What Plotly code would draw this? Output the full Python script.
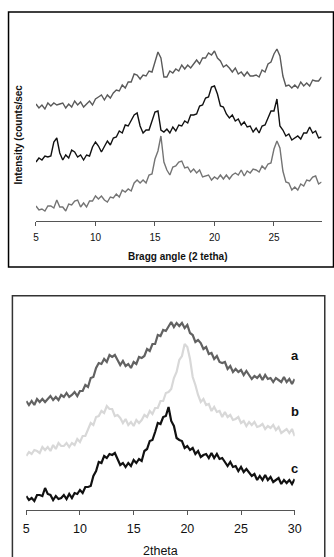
import numpy as np
import plotly.graph_objects as go

# ---------------- data ----------------
# Top panel: 2-theta grid 5..29 (step 0.25)
top_theta = np.arange(5.0, 29.0001, 0.25)
top_upper = [117,113,116,112,118,115,118,116,117,118,
             113,117,114,120,116,119,114,117,120,116,
             122,124,126,121,126,123,128,131,130,136,
             133,139,139,147,146,142,146,145,150,149,
             160,169,163,144,144,150,148,152,150,156,
             152,156,153,157,161,157,163,163,168,166,
             170,163,160,154,156,153,149,153,147,149,
             145,149,145,145,146,144,151,149,157,159,
             167,172,165,145,135,136,133,136,133,139,
             135,138,135,141,140,140,144]
top_middle = [59,63,61,65,64,65,79,83,68,61,
              66,63,71,69,64,66,61,66,65,74,
              79,75,69,74,80,76,83,84,90,88,
              96,95,100,106,108,95,88,91,91,101,
              109,110,91,89,92,88,94,90,96,95,
              100,98,106,106,107,115,116,123,124,134,
              135,127,115,114,107,103,106,100,102,96,
              99,94,95,89,93,88,95,96,103,110,
              110,122,95,91,85,87,81,83,85,82,
              88,88,94,88,90,83,84]
top_lower = [15,11,12,10,15,15,13,21,14,14,
             10,17,16,20,21,14,18,14,20,20,
             25,22,25,21,19,24,23,27,24,31,
             29,32,30,38,41,38,41,38,46,47,
             62,70,85,59,51,46,54,55,59,60,
             53,54,49,52,48,51,44,45,46,41,
             44,42,46,42,46,42,46,48,46,51,
             45,50,48,52,51,49,55,52,57,58,
             72,80,73,50,39,38,31,34,31,37,
             35,41,40,44,45,37,39]

# Bottom panel: 2-theta grid 5..30 (step 0.25)
bot_theta = np.arange(5.0, 30.0001, 0.25)
bot_a = [109,105,109,105,111,108,111,108,111,114,
         110,113,110,115,113,117,113,115,118,114,
         119,119,125,123,132,133,142,147,146,151,
         148,155,153,155,150,145,149,144,146,142,
         148,146,153,152,154,161,159,166,166,175,
         174,180,179,183,188,183,187,184,187,182,
         185,177,175,168,170,167,161,163,156,157,
         151,154,148,147,148,141,144,138,141,138,
         140,135,139,135,131,134,132,135,130,135,
         131,132,128,132,130,128,133,128,131,126,
         131]
bot_b = [54,58,56,60,59,57,63,60,63,59,
         65,61,67,64,64,67,63,67,65,71,
         68,74,74,80,87,85,93,94,99,97,
         104,101,101,94,95,92,87,91,85,88,
         84,90,87,90,95,93,99,96,102,102,
         109,109,117,118,121,132,138,150,154,166,
         163,151,133,125,115,108,111,105,106,99,
         103,98,99,93,98,93,95,90,91,93,
         87,89,84,88,85,88,83,84,86,81,
         84,82,85,80,83,77,79,81,77,81,
         74]
bot_c = [14,10,12,9,15,15,14,22,16,15,
         10,14,11,12,15,11,16,12,17,16,
         20,17,23,23,24,34,39,48,47,54,
         52,56,55,57,51,45,47,43,47,44,
         50,47,51,49,59,61,69,70,78,87,
         86,93,94,103,89,84,72,70,69,62,
         64,60,62,56,59,53,55,56,52,57,
         52,56,51,52,48,44,48,43,44,39,
         43,38,41,37,34,36,30,34,30,35,
         30,33,28,30,32,26,30,27,30,26,
         31]

top_ticks = [5, 10, 15, 20, 25]
bot_ticks = [5, 10, 15, 20, 25, 30]
series_labels = ["a", "b", "c"]

# ---------------- figure ----------------
W, H = 334, 557
px = lambda v: v / W
py = lambda v: 1 - v / H
FONT = "Arial, Liberation Sans, Helvetica, sans-serif"

fig = go.Figure()
top_colors = ["#5a5a5a", "#111111", "#747474"]
for ys, col in zip([top_upper, top_middle, top_lower], top_colors):
    fig.add_trace(go.Scatter(x=top_theta, y=ys, mode="lines",
                             line=dict(color=col, width=1.4),
                             xaxis="x", yaxis="y", showlegend=False, hoverinfo="skip"))

bot_colors = ["#626262", "#d8d8d8", "#111111"]
for ys, col in zip([bot_a, bot_b, bot_c], bot_colors):
    fig.add_trace(go.Scatter(x=bot_theta, y=ys, mode="lines",
                             line=dict(color=col, width=2.2),
                             xaxis="x2", yaxis="y2", showlegend=False, hoverinfo="skip"))

axis_common = dict(showgrid=False, zeroline=False, showline=True, linecolor="#555555",
                   linewidth=1.2, ticks="outside", ticklen=4, tickcolor="#555555")

fig.update_layout(
    width=W, height=H, margin=dict(l=0, r=0, t=0, b=0),
    paper_bgcolor="white", plot_bgcolor="white",
    font=dict(family=FONT, color="#111111"),
    xaxis=dict(domain=[px(34), px(328.4)], range=[5, 29], anchor="y",
               tickvals=top_ticks, tickfont=dict(size=10, family=FONT),
               ticklabelstandoff=3, **axis_common),
    yaxis=dict(domain=[py(221), py(41)], range=[0, 180], anchor="x",
               visible=False),
    xaxis2=dict(domain=[px(24), px(300.7)], range=[5, 30], anchor="y2",
                tickvals=bot_ticks, tickfont=dict(size=12.5, family=FONT),
                ticklabelstandoff=3, **axis_common),
    yaxis2=dict(domain=[py(510), py(310)], range=[0, 200], anchor="x2",
                visible=False),
)

# frames
fig.add_shape(type="rect", xref="paper", yref="paper",
              x0=px(5.7), x1=1.02, y0=py(267), y1=py(12),
              line=dict(color="#000000", width=1.5), layer="below")
fig.add_shape(type="rect", xref="paper", yref="paper",
              x0=px(9.7), x1=px(331.7), y0=-0.05, y1=py(295.7),
              line=dict(color="#333333", width=1.5), layer="below")

# titles
fig.add_annotation(text="<b>Intensity (counts/sec</b>", xref="paper", yref="paper",
                   x=px(15), y=py(135), textangle=-90, showarrow=False,
                   font=dict(size=10, family=FONT, color="#111111"),
                   xanchor="center", yanchor="middle")
fig.add_annotation(text="<b>Bragg angle (2 tetha)</b>", xref="paper", yref="paper",
                   x=px(180), y=py(256), showarrow=False,
                   font=dict(size=10, family=FONT, color="#111111"),
                   xanchor="center", yanchor="middle")
fig.add_annotation(text="2theta", xref="paper", yref="paper",
                   x=px(162), y=py(551), showarrow=False,
                   font=dict(size=12.5, family=FONT, color="#111111"),
                   xanchor="center", yanchor="middle")

# series labels
for lab, ypix in zip(series_labels, [355, 411, 468]):
    fig.add_annotation(text=f"<b>{lab}</b>", xref="paper", yref="paper",
                       x=px(301), y=py(ypix), showarrow=False,
                       font=dict(size=13, family=FONT, color="#111111"),
                       xanchor="center", yanchor="middle")

fig.write_html("out.html",
               config={"displayModeBar": False, "staticPlot": True},
               post_script="document.body.style.margin='0';document.body.style.overflow='hidden';")
